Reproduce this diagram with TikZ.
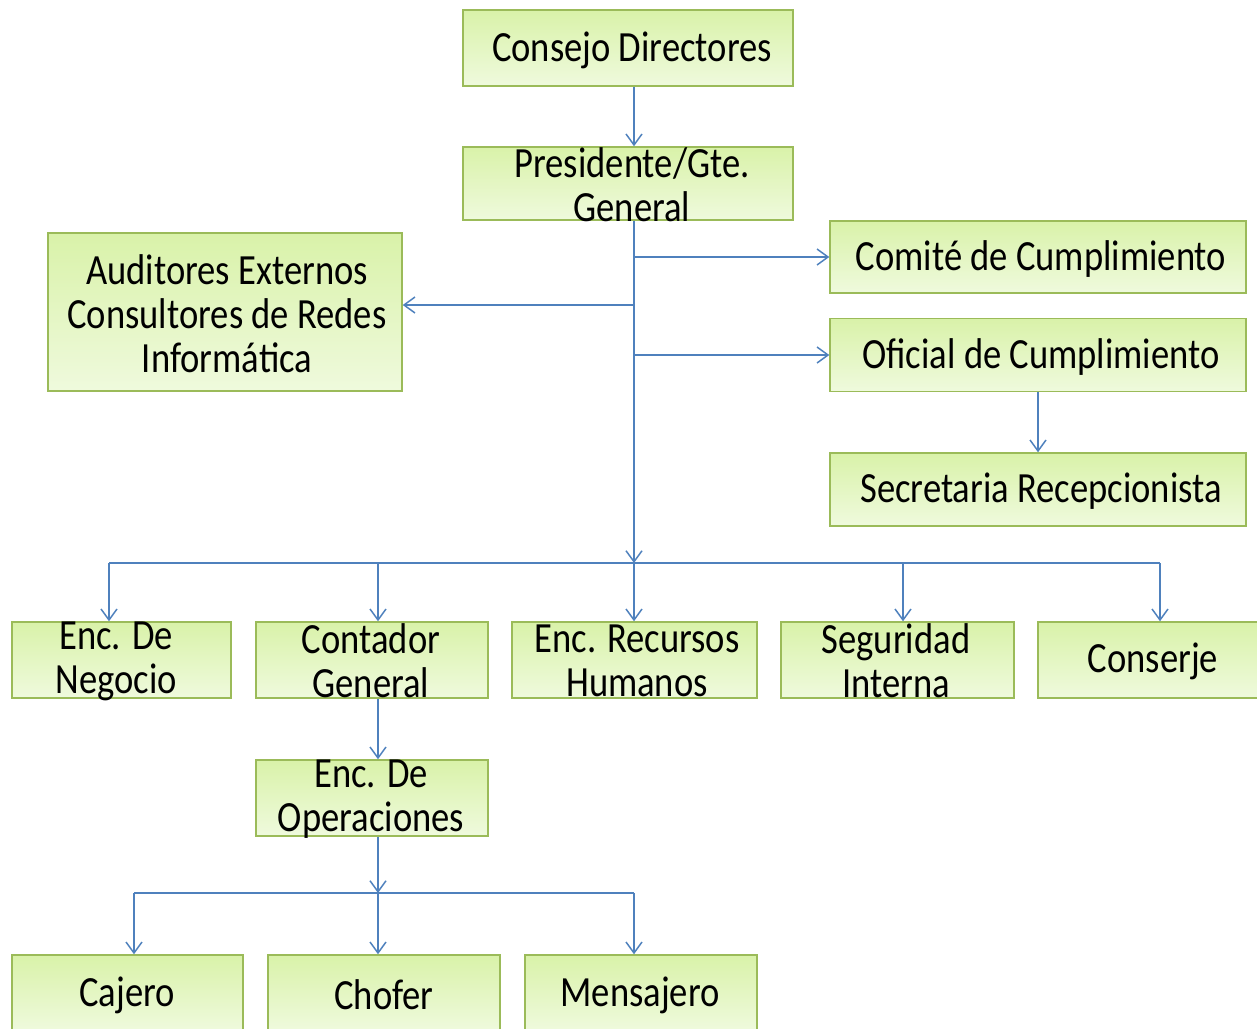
\documentclass[tikz,border=0pt]{standalone}
\usepackage{fontspec}
\setmainfont{Carlito}[FakeStretch=0.85]
\usepackage{tikz}
\usetikzlibrary{calc,positioning}
\usetikzlibrary{arrows.meta}
\tikzset{>={Straight Barb[width=3.2mm,length=2.2mm]}}
\definecolor{boxline}{HTML}{9BBB59}
\definecolor{boxtop}{HTML}{D9F2A9}
\definecolor{boxbot}{HTML}{EFFADD}
\definecolor{linkblue}{HTML}{4F81BD}

\begin{document}
\begin{tikzpicture}[x=0.02cm,y=-0.02cm]
          \tikzstyle{bnode} = [draw=boxline, line width=0.3mm, rectangle, top color=boxtop, bottom color=boxbot, inner sep=0pt]
          \tikzstyle{tnode} = [inner sep=0pt, align=center, font=\fontsize{24.5}{25}\selectfont]
          \tikzstyle{link} = [draw=linkblue, line width=0.3mm]
          \tikzstyle{conn} = [->, link]

          \clip (0,0) rectangle (1257,1028);

          % boxes
          \node[bnode, minimum width=6.6cm, minimum height=1.52cm] (cons) at (628,48) {};
          \node[bnode, minimum width=6.6cm, minimum height=1.46cm] (pres) at (628,183.5) {};
          \node[bnode, minimum width=7.08cm, minimum height=3.16cm] (aud) at (225,312) {};
          \node[bnode, minimum width=8.32cm, minimum height=1.44cm] (comi) at (1038,257) {};
          \node[bnode, minimum width=8.32cm, minimum height=1.46cm] (ofic) at (1038,355) {};
          \node[bnode, minimum width=8.32cm, minimum height=1.46cm] (secr) at (1038,489.5) {};
          \node[bnode, minimum width=4.38cm, minimum height=1.52cm] (neg) at (121.5,660) {};
          \node[bnode, minimum width=4.64cm, minimum height=1.52cm] (cont) at (372,660) {};
          \node[bnode, minimum width=4.9cm, minimum height=1.52cm] (rrhh) at (634.5,660) {};
          \node[bnode, minimum width=4.66cm, minimum height=1.52cm] (seg) at (897.5,660) {};
          \node[bnode, minimum width=4.6cm, minimum height=1.52cm] (consj) at (1153,660) {};
          \node[bnode, minimum width=4.64cm, minimum height=1.52cm] (oper) at (372,798) {};
          \node[bnode, minimum width=4.62cm, minimum height=1.52cm] (caj) at (127.5,993) {};
          \node[bnode, minimum width=4.64cm, minimum height=1.52cm] (chof) at (384,993) {};
          \node[bnode, minimum width=4.64cm, minimum height=1.52cm] (mens) at (641,993) {};

          % texts
          \node[tnode] (cons-t) at (632,50) {Consejo Directores};
          \node[tnode] (pres-t) at (632,185) {Presidente/Gte.\\General};
          \node[tnode] (aud-t) at (227,314) {Auditores Externos\\Consultores de Redes\\Informática};
          \node[tnode] (comi-t) at (1041,259) {Comité de Cumplimiento};
          \node[tnode] (ofic-t) at (1041,357) {Oficial de Cumplimiento};
          \node[tnode] (secr-t) at (1041,491) {Secretaria Recepcionista};
          \node[tnode] (neg-t) at (116,661) {Enc. De\\Negocio};
          \node[tnode] (cont-t) at (371,661) {Contador\\General};
          \node[tnode] (rrhh-t) at (637,661) {Enc. Recursos\\Humanos};
          \node[tnode] (seg-t) at (896,661) {Seguridad\\Interna};
          \node[tnode] (consj-t) at (1153,661) {Conserje};
          \node[tnode] (oper-t) at (371,799) {Enc. De\\Operaciones};
          \node[tnode] (caj-t) at (127,995) {Cajero};
          \node[tnode] (chof-t) at (384,995) {Chofer};
          \node[tnode] (mens-t) at (640,995) {Mensajero};

          % connectors
          \coordinate (xmain) at (634,0);
          \coordinate (audtap) at (634,305);
          \coordinate (busA) at (634,563);
          \coordinate (dneg) at (109,563);
          \coordinate (dcont) at (378,563);
          \coordinate (dseg) at (903,563);
          \coordinate (dconsj) at (1160,563);
          \coordinate (busB) at (378,893);
          \coordinate (dcaj) at (134,893);
          \coordinate (dmens) at (634,893);

          \draw[conn] (cons.south -| xmain) -- (pres.north -| xmain);
          \draw[conn] (pres.south -| xmain) -- (busA);
          \draw[conn] (xmain |- comi.west) -- (comi.west);
          \draw[conn] (audtap) -- (audtap -| aud.east);
          \draw[conn] (xmain |- ofic.west) -- (ofic.west);
          \draw[conn] (ofic.south) -- (secr.north);

          \draw[link] (dneg) -- (dconsj);
          \draw[conn] (dneg) -- (dneg |- neg.north);
          \draw[conn] (dcont) -- (dcont |- cont.north);
          \draw[conn] (busA) -- (busA |- rrhh.north);
          \draw[conn] (dseg) -- (dseg |- seg.north);
          \draw[conn] (dconsj) -- (dconsj |- consj.north);

          \draw[conn] (dcont |- cont.south) -- (dcont |- oper.north);
          \draw[conn] (dcont |- oper.south) -- (busB);
          \draw[link] (dcaj) -- (dmens);
          \draw[conn] (dcaj) -- (dcaj |- caj.north);
          \draw[conn] (busB) -- (busB |- chof.north);
          \draw[conn] (dmens) -- (dmens |- mens.north);
        \end{tikzpicture}
\end{document}
